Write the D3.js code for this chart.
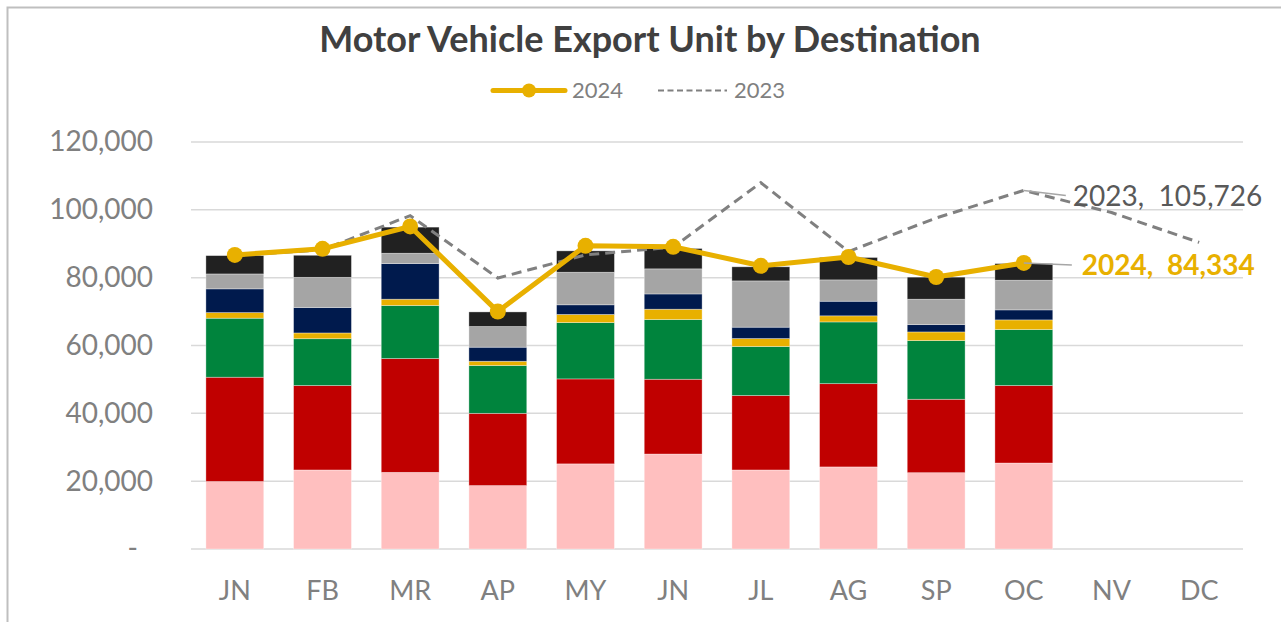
<!DOCTYPE html>
<html>
<head>
<meta charset="utf-8">
<script src="https://cdn.jsdelivr.net/npm/d3@7"></script>
<style>
  body { margin: 0; background: #fff; }
  svg text { font-family: Lato, "Open Sans", sans-serif; }
</style>
</head>
<body>
<div id="chart"></div>
<script>
// Motor vehicle export units by destination - stacked bars with 2024 / 2023 totals

// months (JN appears twice, so bars are keyed by index)
var months = ["JN", "FB", "MR", "AP", "MY", "JN", "JL", "AG", "SP", "OC", "NV", "DC"];

// stacked destination segments, bottom to top (Jan..Oct 2024)
var dest1 = [19900, 23300, 22600, 18700, 25100, 28000, 23300, 24200, 22500, 25350];
var dest2 = [30750, 24900, 33550, 21300, 25050, 22050, 21950, 24550, 21650, 22850];
var dest3 = [17400, 13800, 15650, 14100, 16600, 17600, 14450, 18200, 17300, 16500];
var dest4 = [1650, 1700, 1850, 1250, 2400, 3050, 2350, 1800, 2550, 2850];
var dest5 = [7000, 7500, 10500, 4150, 2850, 4500, 3350, 4300, 2150, 2950];
var dest6 = [4400, 8900, 3050, 6100, 9600, 7400, 13650, 6300, 7500, 8750];
var dest7 = [5400, 6500, 7700, 4300, 6300, 6000, 4150, 6600, 6500, 4900];

// totals
var total2024 = [86700, 88500, 95100, 70000, 89400, 89100, 83500, 86100, 80200, 84334];
var total2023 = [86500, 88200, 98300, 79900, 86700, 89000, 108000, 87700, 97600, 105726, 99200, 90400];

var yTicks = [0, 20000, 40000, 60000, 80000, 100000, 120000];

var destColors = ["#FFBFBF", "#C00000", "#00843D", "#E8B000", "#001A4D", "#A5A5A5", "#212121"];
var gold = "#E8B000";
var grey = "#808080";

function draw_chart(div_id) {
	var width = 1281, height = 622;
	var plot = {left: 191, right: 1243, top: 142, bottom: 549};

	var svg = d3.select('#' + div_id).append("svg")
		.attr("width", width)
		.attr("height", height);

	// chart frame (only top/left visible in the crop)
	svg.append("path")
		.attr("d", "M7.5," + height + "V7.5H" + width)
		.attr("fill", "none")
		.attr("stroke", "#BFBFBF")
		.attr("stroke-width", 2);

	// scales
	var x = d3.scaleBand()
		.domain(d3.range(months.length))
		.range([plot.left, plot.right])
		.paddingInner(0.34)
		.paddingOuter(0.17);
	var y = d3.scaleLinear()
		.domain([0, 120000])
		.range([plot.bottom, plot.top]);

	// gridlines
	svg.append("g").selectAll("line")
		.data(yTicks)
		.enter().append("line")
		  .attr("x1", plot.left)
		  .attr("x2", plot.right)
		  .attr("y1", function(d) { return y(d); })
		  .attr("y2", function(d) { return y(d); })
		  .attr("stroke", "#D9D9D9")
		  .attr("stroke-width", 1.5);

	// y axis
	var yAxis = svg.append("g")
		.attr("transform", "translate(" + plot.left + ",0)")
		.call(d3.axisLeft(y)
			.tickValues(yTicks)
			.tickSize(0)
			.tickPadding(38)
			.tickFormat(function(d) { return d === 0 ? "-" : d3.format(",")(d); }));
	yAxis.select(".domain").remove();
	yAxis.selectAll("text")
		.attr("fill", grey)
		.style("font-size", "28px")
		.attr("x", function(d) { return d === 0 ? -53 : -38; });

	// x axis
	var xAxis = svg.append("g")
		.attr("transform", "translate(0," + plot.bottom + ")")
		.call(d3.axisBottom(x)
			.tickSize(0)
			.tickPadding(32)
			.tickFormat(function(i) { return months[i]; }));
	xAxis.select(".domain").remove();
	xAxis.selectAll("text")
		.attr("fill", grey)
		.style("font-size", "27px");

	// stacked bars
	var rows = dest1.map(function(v, i) {
		return {i: i, d1: dest1[i], d2: dest2[i], d3: dest3[i], d4: dest4[i],
			d5: dest5[i], d6: dest6[i], d7: dest7[i]};
	});
	var keys = ["d1", "d2", "d3", "d4", "d5", "d6", "d7"];
	var stack = d3.stack().keys(keys)(rows);

	svg.append("g").selectAll("g")
		.data(stack)
		.enter().append("g")
		  .attr("fill", function(d, k) { return destColors[k]; })
		.selectAll("rect")
		.data(function(d) { return d; })
		.enter().append("rect")
		  .attr("x", function(d) { return x(d.data.i); })
		  .attr("width", x.bandwidth())
		  .attr("y", function(d) { return y(d[1]); })
		  .attr("height", function(d) { return y(d[0]) - y(d[1]); })
		  .attr("stroke", "rgba(255,255,255,0.45)")
		  .attr("stroke-width", 0.75);

	var cx = function(d, i) { return x(i) + x.bandwidth() / 2; };

	// 2023 dashed line
	svg.append("path")
		.datum(total2023)
		.attr("fill", "none")
		.attr("stroke", grey)
		.attr("stroke-width", 3)
		.attr("stroke-dasharray", "10,6")
		.attr("d", d3.line().x(cx).y(function(d) { return y(d); }));

	// 2024 line with markers
	svg.append("path")
		.datum(total2024)
		.attr("fill", "none")
		.attr("stroke", gold)
		.attr("stroke-width", 5)
		.attr("stroke-linejoin", "round")
		.attr("d", d3.line().x(cx).y(function(d) { return y(d); }));
	svg.append("g").selectAll("circle")
		.data(total2024)
		.enter().append("circle")
		  .attr("cx", cx)
		  .attr("cy", function(d) { return y(d); })
		  .attr("r", 8)
		  .attr("fill", gold);

	// end labels with leader lines
	var last24 = total2024.length - 1, last23 = 9;
	var lx24 = cx(null, last24), ly24 = y(total2024[last24]);
	var lx23 = cx(null, last23), ly23 = y(total2023[last23]);

	svg.append("line")
		.attr("x1", lx23).attr("y1", ly23)
		.attr("x2", lx23 + 42).attr("y2", ly23 + 5)
		.attr("stroke", "#A6A6A6").attr("stroke-width", 1.5);
	svg.append("line")
		.attr("x1", lx24).attr("y1", ly24)
		.attr("x2", lx24 + 48).attr("y2", ly24 + 2)
		.attr("stroke", "#A6A6A6").attr("stroke-width", 1.5);

	svg.append("text")
		.attr("x", lx23 + 49)
		.attr("y", ly23 + 16)
		.attr("fill", "#595959")
		.style("font-size", "28px")
		.style("white-space", "pre")
		.text("2023,  " + d3.format(",")(total2023[last23]));
	svg.append("text")
		.attr("x", lx24 + 58)
		.attr("y", ly24 + 12)
		.attr("fill", gold)
		.style("font-size", "28px")
		.style("font-weight", "bold")
		.style("white-space", "pre")
		.text("2024,  " + d3.format(",")(total2024[last24]));

	// title
	svg.append("text")
		.attr("x", 650)
		.attr("y", 52)
		.attr("text-anchor", "middle")
		.attr("fill", "#404040")
		.style("font-size", "36px")
		.style("font-weight", "bold")
		.text("Motor Vehicle Export Unit by Destination");

	// legend
	var legend = svg.append("g");
	legend.append("line")
		.attr("x1", 493).attr("x2", 565).attr("y1", 90.5).attr("y2", 90.5)
		.attr("stroke", gold).attr("stroke-width", 5).attr("stroke-linecap", "round");
	legend.append("circle")
		.attr("cx", 529).attr("cy", 90.5).attr("r", 7).attr("fill", gold);
	legend.append("text")
		.attr("x", 572).attr("y", 98)
		.attr("fill", grey).style("font-size", "22px")
		.text("2024");
	legend.append("line")
		.attr("x1", 658).attr("x2", 727).attr("y1", 90.5).attr("y2", 90.5)
		.attr("stroke", grey).attr("stroke-width", 2).attr("stroke-dasharray", "6,3.5");
	legend.append("text")
		.attr("x", 734).attr("y", 98)
		.attr("fill", grey).style("font-size", "22px")
		.text("2023");
} // draw_chart

draw_chart("chart");
</script>
</body>
</html>
